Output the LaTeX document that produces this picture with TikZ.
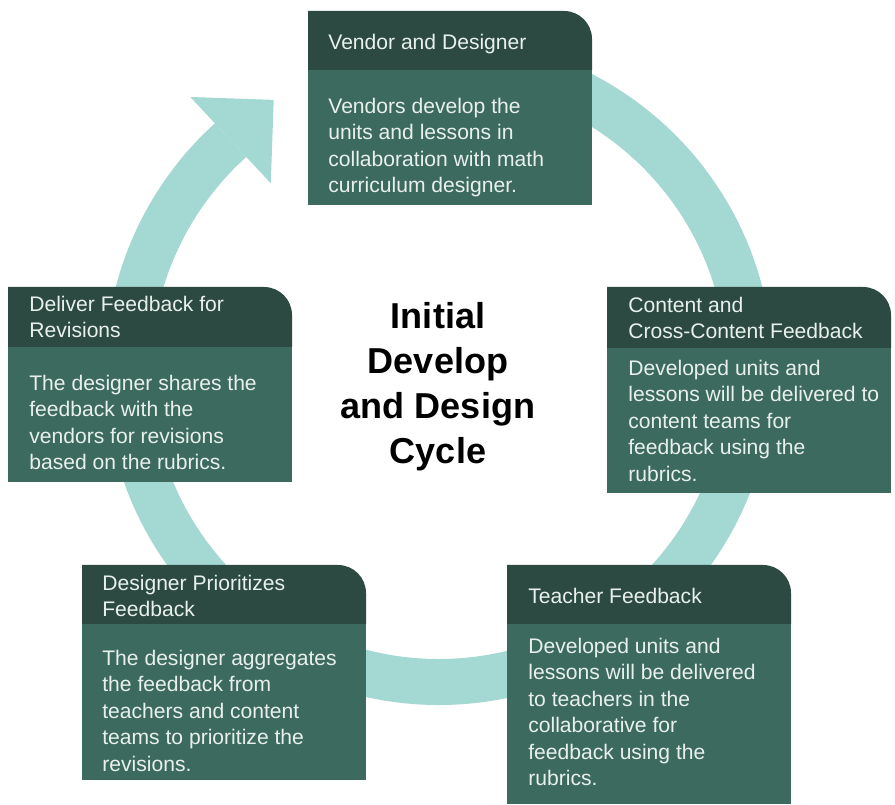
\documentclass[tikz,border=0pt]{standalone}
\usepackage{fontspec}
\setmainfont{Liberation Sans}
\usetikzlibrary{arrows.meta}
\definecolor{ringTeal}{HTML}{A4D8D3}
\definecolor{headGreen}{HTML}{2C4A42}
\definecolor{bodyGreen}{HTML}{3D6A5F}
\definecolor{paleText}{HTML}{E8F0EC}

\begin{document}
\begin{tikzpicture}[
    stagetext/.style={anchor=north west, inner sep=0pt, align=left,
        text=paleText, font=\fontsize{12}{15}\selectfont},
    cycletitle/.style={align=center, inner sep=0pt,
        font=\fontsize{20.5}{25.6}\selectfont\bfseries}]
    \def\R{6.22}  % mid radius of the ring
    \def\w{5.68}  % width of a stage box
    \def\r{0.56}  % rounded corner of the header bar
    \useasboundingbox (0,0) rectangle (17.9,16.08);

    % ---------- ring with arrow ----------
    \coordinate (hub) at (8.78,8.66);
    \draw[ringTeal, line width=0.92cm,
        -{Triangle[width=2.36cm, length=1.18cm, line width=0pt]}]
        ([shift={(95:\R)}]hub) arc (95:-227:\R) -- ++(43:1.28);

    % ---------- box fills: left, top, header bottom, bottom ----------
    \foreach \xl/\yt/\ym/\yb in {6.16/15.86/14.68/11.98, 12.14/10.34/9.12/6.22,
            0.16/10.34/9.14/6.44, 1.64/4.78/3.60/0.48, 10.14/4.78/3.60/0} {
        \fill[bodyGreen] (\xl,\yb) rectangle ({\xl+\w},\ym);
        \fill[headGreen] (\xl,\ym) -- (\xl,\yt) -- ({\xl+\w-\r},\yt)
            arc (90:0:\r) -- ({\xl+\w},\ym) -- cycle;
    }

    % ---------- title ----------
    \node[cycletitle] (cycleTitle) at (8.76,8.34) {Initial\\Develop\\and Design\\Cycle};

    % ---------- vendor and designer ----------
    \node[stagetext] (vendorHead) at (6.56,15.40) {Vendor and Designer};
    \node[stagetext] (vendorText) at (6.56,14.12)
        {Vendors develop the\\units and lessons in\\collaboration with math\\curriculum designer.};

    % ---------- content feedback ----------
    \node[stagetext] (contentHead) at (12.56,10.14) {Content and\\Cross-Content Feedback};
    \node[stagetext] (contentText) at (12.56,8.88)
        {Developed units and\\lessons will be delivered to\\content teams for\\feedback using the\\rubrics.};

    % ---------- teacher feedback ----------
    \node[stagetext] (teacherHead) at (10.56,4.32) {Teacher Feedback};
    \node[stagetext] (teacherText) at (10.56,3.32)
        {Developed units and\\lessons will be delivered\\to teachers in the\\collaborative for\\feedback using the\\rubrics.};

    % ---------- designer prioritizes ----------
    \node[stagetext] (priorHead) at (2.04,4.58) {Designer Prioritizes\\Feedback};
    \node[stagetext] (priorText) at (2.04,3.08)
        {The designer aggregates\\the feedback from\\teachers and content\\teams to prioritize the\\revisions.};

    % ---------- deliver feedback ----------
    \node[stagetext] (deliverHead) at (0.58,10.16) {Deliver Feedback for\\Revisions};
    \node[stagetext] (deliverText) at (0.58,8.58)
        {The designer shares the\\feedback with the\\vendors for revisions\\based on the rubrics.};
\end{tikzpicture}
\end{document}
